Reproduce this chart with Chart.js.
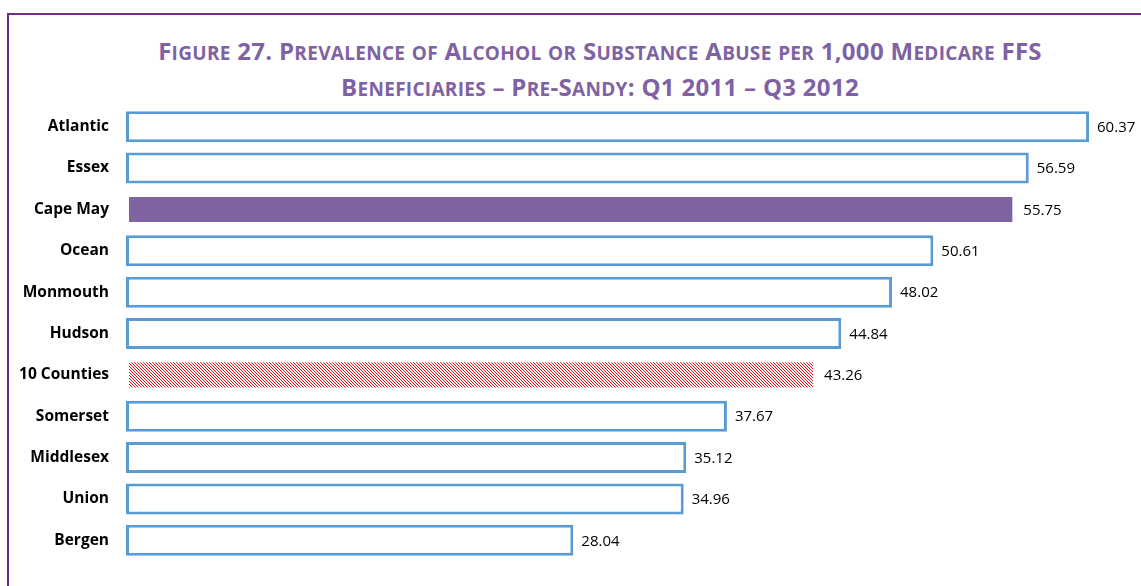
<!DOCTYPE html>
<html>
<head>
<meta charset="utf-8">
<script src="https://cdn.jsdelivr.net/npm/chart.js@4"></script>
<style>
  html, body { margin: 0; padding: 0; background: #fff; }
  #wrap { position: relative; width: 1141px; height: 586px; overflow: hidden; }
  #frame {
    position: absolute; left: 7px; top: 13px; width: 1200px; height: 700px;
    border: 2px solid #6f2b8e; box-sizing: border-box;
  }
  #title {
    position: absolute; left: 0; top: 34px; width: 1200px; text-align: center;
    font-family: "Open Sans", sans-serif; font-weight: bold; font-size: 24px;
    color: #7f62a3; line-height: 34px; letter-spacing: 0.3px;
  }
  #title .sc { font-size: 19px; text-transform: uppercase; }
  #chart { position: absolute; left: 0; top: 0; }
</style>
</head>
<body>
<div id="wrap">
  <div id="frame"></div>
  <div id="title"></div>
  <canvas id="chart" width="1141" height="586"></canvas>
</div>
<script>
// データ
const counties = ["Atlantic", "Essex", "Cape May", "Ocean", "Monmouth", "Hudson",
  "10 Counties", "Somerset", "Middlesex", "Union", "Bergen"];
const prevalence = [60.37, 56.59, 55.75, 50.61, 48.02, 44.84, 43.26, 37.67, 35.12, 34.96, 28.04];
const titleLines = ["Figure 27. Prevalence of Alcohol or Substance Abuse per 1,000 Medicare FFS",
  "Beneficiaries – Pre-Sandy: Q1 2011 – Q3 2012"];

// タイトル (スモールキャップス)
const titleEl = document.getElementById("title");
titleLines.forEach((line, k) => {
  if (k > 0) titleEl.appendChild(document.createElement("br"));
  line.split(/([a-z]+)/).forEach(part => {
    if (!part) return;
    const s = document.createElement("span");
    if (/^[a-z]+$/.test(part)) s.className = "sc";
    s.textContent = part;
    titleEl.appendChild(s);
  });
});

// 斜線パターン (10 Counties)
function hatch() {
  const c = document.createElement("canvas");
  c.width = 3; c.height = 3;
  const g = c.getContext("2d");
  g.fillStyle = "#fff";
  g.fillRect(0, 0, 3, 3);
  g.fillStyle = "#e8141c";
  for (let i = 0; i < 3; i++) g.fillRect(i, i, 1, 1);
  return g.createPattern(c, "repeat");
}

const fills = counties.map(n => n === "Cape May" ? "#8064a2" : n === "10 Counties" ? hatch() : "#ffffff");
const borders = counties.map(n => n === "Cape May" || n === "10 Counties" ? "rgba(0,0,0,0)" : "#5b9bd5");

// 値ラベル
const valueLabels = {
  id: "valueLabels",
  afterDatasetsDraw(chart) {
    const ctx = chart.ctx;
    const meta = chart.getDatasetMeta(0);
    ctx.save();
    ctx.font = "15px 'Open Sans', sans-serif";
    ctx.fillStyle = "#000";
    ctx.textBaseline = "middle";
    meta.data.forEach((bar, i) => {
      ctx.fillText(prevalence[i].toFixed(2), bar.x + 8, bar.y + 1);
    });
    ctx.restore();
  }
};

new Chart(document.getElementById("chart").getContext("2d"), {
  type: "bar",
  data: {
    labels: counties,
    datasets: [{
      data: prevalence,
      backgroundColor: fills,
      borderColor: borders,
      borderWidth: 3,
      borderSkipped: false,
      categoryPercentage: 1,
      barPercentage: 0.75
    }]
  },
  options: {
    indexAxis: "y",
    responsive: false,
    animation: false,
    layout: { padding: { top: 106, bottom: 25, right: 10, left: 0 } },
    plugins: { legend: { display: false }, tooltip: { enabled: false } },
    scales: {
      x: { display: false, min: 0, max: 63 },
      y: {
        grid: { display: false },
        border: { display: false },
        ticks: {
          color: "#000",
          padding: 9,
          font: { family: "'Open Sans', sans-serif", weight: "bold", size: 15.5 }
        },
        afterFit(scale) { scale.width = 126; }
      }
    }
  },
  plugins: [valueLabels]
});
</script>
</body>
</html>
